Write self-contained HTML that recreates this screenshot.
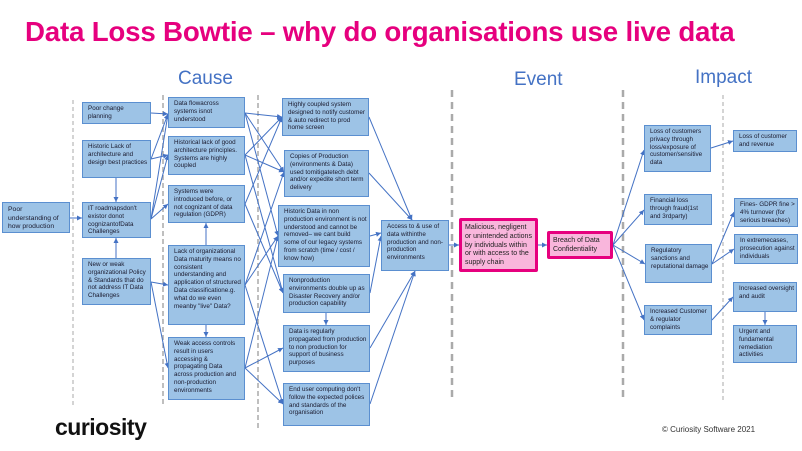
<!DOCTYPE html>
<html><head><meta charset="utf-8"><style>
body{margin:0;width:802px;height:451px;background:#fff;position:relative;overflow:hidden;font-family:"Liberation Sans",sans-serif}
.b{position:absolute;background:#9dc3e6;border:1px solid #5b8fd0;box-sizing:border-box;font-size:6.3px;line-height:7.8px;color:#1a1a2e;padding:2px 2px 1px 5px;overflow:hidden}
.p{position:absolute;background:#f9b6dc;border:3px solid #e6007e;box-sizing:border-box;font-size:7px;line-height:8.8px;color:#222;padding:3px 3px;border-radius:2px;overflow:hidden}
.h{position:absolute;color:#4472c4;font-size:19px}
svg{position:absolute;left:0;top:0}
</style></head><body>
<div style="position:absolute;left:25px;top:16px;color:#e6007e;font-weight:bold;font-size:27.7px;letter-spacing:-0.2px;white-space:nowrap">Data Loss Bowtie – why do organisations use live data</div>
<div class="h" style="left:178px;top:68px">Cause</div>
<div class="h" style="left:514px;top:69px">Event</div>
<div class="h" style="left:695px;top:67px">Impact</div>
<svg width="802" height="451">
<defs><marker id="a" markerWidth="6" markerHeight="6" refX="5" refY="3" orient="auto"><path d="M0,0.5 L5,3 L0,5.5z" fill="#4472c4"/></marker></defs>
<g stroke="#aaa" fill="none">
<line x1="73" y1="100" x2="73" y2="405" stroke-width="1" stroke-dasharray="4,3"/>
<line x1="723" y1="95" x2="723" y2="400" stroke-width="1" stroke-dasharray="4,3"/>
<line x1="163" y1="95" x2="163" y2="405" stroke-width="1.5" stroke-dasharray="5,3"/>
<line x1="258" y1="95" x2="258" y2="430" stroke-width="1.5" stroke-dasharray="5,3"/>
<line x1="452" y1="90" x2="452" y2="400" stroke-width="2.5" stroke-dasharray="7,5"/>
<line x1="623" y1="90" x2="623" y2="400" stroke-width="2.5" stroke-dasharray="7,5"/>
</g>
<g stroke="#4472c4" stroke-width="1" fill="none" marker-end="url(#a)">
<line x1="70" y1="218" x2="82" y2="218"/>
<line x1="151" y1="113" x2="168" y2="114"/>
<line x1="151" y1="159" x2="168" y2="114"/>
<line x1="151" y1="159" x2="168" y2="155"/>
<line x1="116" y1="178" x2="116" y2="202"/>
<line x1="151" y1="219" x2="168" y2="114"/>
<line x1="151" y1="219" x2="168" y2="155"/>
<line x1="151" y1="219" x2="168" y2="204"/>
<line x1="116" y1="258" x2="116" y2="238"/>
<line x1="151" y1="282" x2="168" y2="285"/>
<line x1="151" y1="282" x2="168" y2="368"/>
<line x1="206" y1="245" x2="206" y2="223"/>
<line x1="206" y1="325" x2="206" y2="337"/>
<line x1="245" y1="113" x2="282" y2="117"/>
<line x1="245" y1="113" x2="284" y2="172"/>
<line x1="245" y1="113" x2="278" y2="236"/>
<line x1="245" y1="155" x2="282" y2="117"/>
<line x1="245" y1="155" x2="284" y2="172"/>
<line x1="245" y1="155" x2="283" y2="293"/>
<line x1="245" y1="204" x2="282" y2="117"/>
<line x1="245" y1="204" x2="283" y2="293"/>
<line x1="245" y1="285" x2="284" y2="172"/>
<line x1="245" y1="285" x2="278" y2="236"/>
<line x1="245" y1="285" x2="283" y2="404"/>
<line x1="245" y1="368" x2="278" y2="236"/>
<line x1="245" y1="368" x2="283" y2="348"/>
<line x1="245" y1="368" x2="283" y2="404"/>
<line x1="326" y1="313" x2="326" y2="325"/>
<line x1="369" y1="117" x2="412" y2="220"/>
<line x1="369" y1="173" x2="412" y2="220"/>
<line x1="370" y1="236" x2="381" y2="233"/>
<line x1="370" y1="293" x2="381" y2="236"/>
<line x1="370" y1="348" x2="415" y2="271"/>
<line x1="370" y1="404" x2="415" y2="271"/>
<line x1="449" y1="245" x2="459" y2="245"/>
<line x1="538" y1="245" x2="547" y2="245"/>
<line x1="613" y1="245" x2="644" y2="150"/>
<line x1="613" y1="245" x2="644" y2="210"/>
<line x1="613" y1="245" x2="645" y2="264"/>
<line x1="613" y1="245" x2="644" y2="320"/>
<line x1="711" y1="148" x2="733" y2="141"/>
<line x1="712" y1="264" x2="734" y2="212"/>
<line x1="712" y1="264" x2="734" y2="249"/>
<line x1="712" y1="320" x2="733" y2="297"/>
<line x1="765" y1="312" x2="765" y2="325"/>
</g>
</svg>
<div class="b" style="left:2px;top:202px;width:68px;height:31px;font-size:6.8px;line-height:8.6px;padding-top:3px">Poor understanding of how production works today</div>
<div class="b" style="left:82px;top:102px;width:69px;height:22px">Poor change planning</div>
<div class="b" style="left:82px;top:140px;width:69px;height:38px">Historic Lack of architecture and design best practices</div>
<div class="b" style="left:82px;top:202px;width:69px;height:36px">IT roadmapsdon't existor donot cognizantofData Challenges</div>
<div class="b" style="left:82px;top:258px;width:69px;height:47px">New or weak organizational Policy &amp; Standards that do not address IT Data Challenges</div>
<div class="b" style="left:168px;top:97px;width:77px;height:31px">Data flowacross systems isnot understood</div>
<div class="b" style="left:168px;top:136px;width:77px;height:39px">Historical lack of good architecture principles. Systems are highly coupled</div>
<div class="b" style="left:168px;top:185px;width:77px;height:38px">Systems were introduced before, or not cognizant of data regulation (GDPR)</div>
<div class="b" style="left:168px;top:245px;width:77px;height:80px">Lack of organizational Data maturity means no consistent understanding and application of structured Data classificatione.g. what do we even meanby "live" Data?</div>
<div class="b" style="left:168px;top:337px;width:77px;height:63px">Weak access controls result in users accessing &amp; propagating Data across production and non-production environments</div>
<div class="b" style="left:282px;top:98px;width:87px;height:38px">Highly coupled system designed to notify customer &amp; auto redirect to prod home screen</div>
<div class="b" style="left:284px;top:150px;width:85px;height:47px">Copies of Production (environments &amp; Data) used tomitigatetech debt and/or expedite short term delivery</div>
<div class="b" style="left:278px;top:205px;width:92px;height:62px">Historic Data in non production environment is not understood and cannot be removed– we cant build some of our legacy systems from scratch (time / cost / know how)</div>
<div class="b" style="left:283px;top:274px;width:87px;height:39px">Nonproduction environments double up as Disaster Recovery and/or production capability</div>
<div class="b" style="left:283px;top:325px;width:87px;height:47px">Data is regularly propagated from production to non production for support of business purposes</div>
<div class="b" style="left:283px;top:383px;width:87px;height:43px">End user computing don't follow the expected polices and standards of the organisation</div>
<div class="b" style="left:381px;top:220px;width:68px;height:51px">Access to &amp; use of data withinthe production and non-production environments</div>
<div class="p" style="left:459px;top:218px;width:79px;height:54px">Malicious, negligent or unintended actions by individuals within or with access to the supply chain</div>
<div class="p" style="left:547px;top:231px;width:66px;height:28px">Breach of Data Confidentiality</div>
<div class="b" style="left:644px;top:125px;width:67px;height:47px">Loss of customers privacy through loss/exposure of customer/sensitive data</div>
<div class="b" style="left:644px;top:194px;width:68px;height:31px">Financial loss through fraud(1st and 3rdparty)</div>
<div class="b" style="left:645px;top:244px;width:67px;height:39px">Regulatory sanctions and reputational damage</div>
<div class="b" style="left:644px;top:305px;width:68px;height:30px">Increased Customer &amp; regulator complaints</div>
<div class="b" style="left:733px;top:130px;width:64px;height:22px">Loss of customer and revenue</div>
<div class="b" style="left:734px;top:198px;width:64px;height:29px">Fines- GDPR fine &gt; 4% turnover (for serious breaches)</div>
<div class="b" style="left:734px;top:234px;width:64px;height:30px">In extremecases, prosecution against individuals</div>
<div class="b" style="left:733px;top:282px;width:64px;height:30px">Increased oversight and audit</div>
<div class="b" style="left:733px;top:325px;width:64px;height:38px">Urgent and fundamental remediation activities</div>
<div style="position:absolute;left:55px;top:414px;font-size:23px;font-weight:bold;color:#111;letter-spacing:-0.5px">curiosity</div>
<div style="position:absolute;left:662px;top:425px;font-size:8px;color:#333">© Curiosity Software 2021</div>
</body></html>
